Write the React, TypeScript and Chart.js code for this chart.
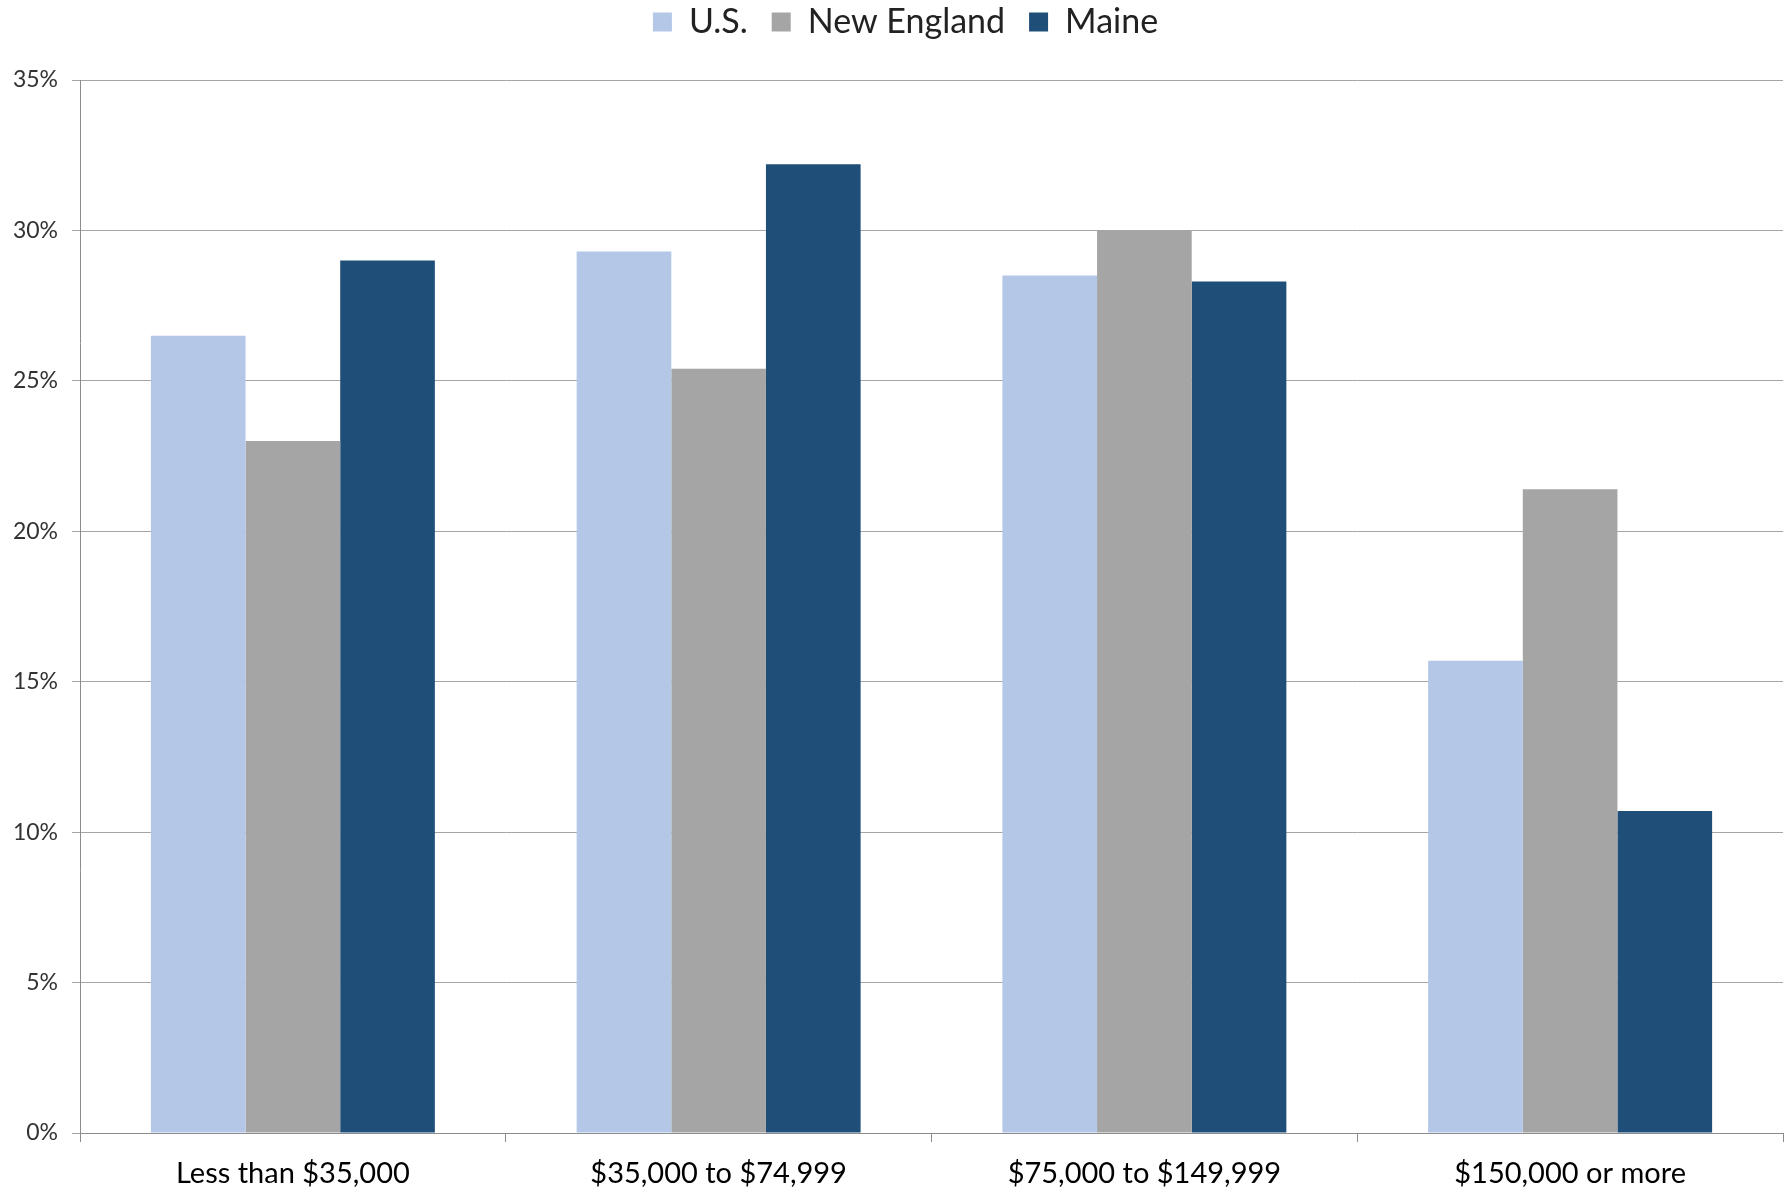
import React, { useEffect, useRef } from "react";
import { Chart, registerables } from "chart.js";

Chart.register(...registerables);

const categories = ["Less than $35,000", "$35,000 to $74,999", "$75,000 to $149,999", "$150,000 or more"];
const usValues = [26.5, 29.3, 28.5, 15.7];
const newEnglandValues = [23.0, 25.4, 30.0, 21.4];
const maineValues = [29.0, 32.2, 28.3, 10.7];
const seriesNames = ["U.S.", "New England", "Maine"];
const yTickMax = 35;
const yTickStep = 5;

const FONT = "Lato, 'Open Sans', sans-serif";

const legendLayoutPlugin = {
  id: "legendLayoutTweak",
  beforeLayout(chart: any) {
    const lg = chart.legend;
    if (lg && !lg.__patched) {
      const orig = lg.fit.bind(lg);
      lg.fit = () => {
        orig();
        lg.height = 80;
      };
      lg.__patched = true;
    }
  },
  afterLayout(chart: any) {
    const lg = chart.legend;
    if (lg) {
      lg.top -= 19;
      lg.bottom -= 19;
      lg.left += 14;
      lg.right += 14;
      if (lg.adjustHitBoxes) lg.adjustHitBoxes();
    }
  },
};

export default function App() {
  const ref = useRef<HTMLCanvasElement | null>(null);
  useEffect(() => {
    document.body.style.margin = "0";
    const ctx = ref.current!;
    const chart = new Chart(ctx, {
      type: "bar",
      data: {
        labels: categories,
        datasets: [
          { label: seriesNames[0], data: usValues, backgroundColor: "#b4c7e7" },
          { label: seriesNames[1], data: newEnglandValues, backgroundColor: "#a5a5a5" },
          { label: seriesNames[2], data: maineValues, backgroundColor: "#1f4e79" },
        ],
      },
      plugins: [legendLayoutPlugin],
      options: {
        animation: false,
        responsive: false,
        devicePixelRatio: 1,
        layout: { padding: { top: 0, right: 3, left: 0, bottom: 0 } },
        datasets: {
          bar: { categoryPercentage: 0.667, barPercentage: 1.0, borderWidth: 0 },
        } as any,
        plugins: {
          tooltip: { enabled: false },
          legend: {
            display: true,
            position: "top",
            labels: {
              boxWidth: 19,
              boxHeight: 19,
              padding: 24,
              color: "#222",
              font: { family: FONT, size: 34 },
            },
          },
        },
        scales: {
          x: {
            offset: true,
            grid: {
              display: true,
              drawOnChartArea: false,
              drawTicks: true,
              tickLength: 9,
              color: "#8c8c8c",
              offset: true,
            },
            border: { display: true, color: "#8c8c8c" },
            ticks: { color: "#000", padding: 14, font: { family: FONT, size: 29 } },
            afterFit(scale: any) {
              scale.height = 59;
            },
          },
          y: {
            min: 0,
            max: yTickMax,
            grid: { color: "#a6a6a6", tickLength: 8, drawTicks: true },
            border: { display: true, color: "#8c8c8c" },
            ticks: {
              stepSize: yTickStep,
              padding: 14,
              color: "#333",
              font: { family: FONT, size: 23 },
              callback: (v: any) => `${v}%`,
            },
            afterFit(scale: any) {
              scale.width = 80;
            },
          },
        },
      },
    });
    return () => chart.destroy();
  }, []);
  return (
    <div style={{ position: "absolute", left: 0, top: 0, width: 1786, height: 1192, background: "#fff" }}>
      <canvas ref={ref} width={1786} height={1192} />
    </div>
  );
}
